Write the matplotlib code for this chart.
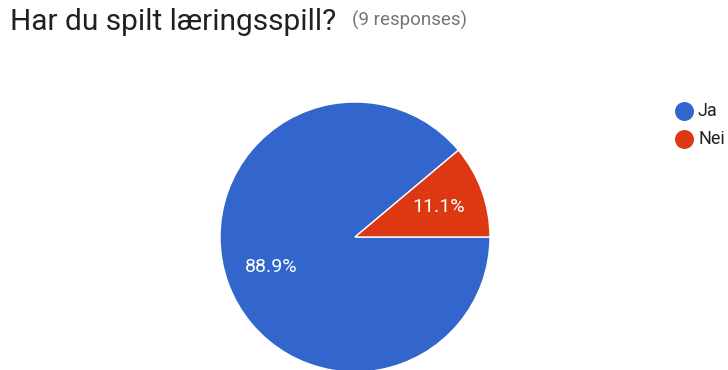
import matplotlib.pyplot as plt

# data
labels = ['Ja', 'Nei']
counts = [8, 1]
colors = ['#3366cc', '#dc3912']
title = 'Har du spilt læringsspill?'
subtitle = '(9 responses)'

plt.rcParams['font.family'] = ['Roboto', 'DejaVu Sans']

fig = plt.figure(figsize=(7.28, 3.70), dpi=100)
ax = fig.add_axes([0, 0, 1, 1])

ax.pie(counts, colors=colors, startangle=0, counterclock=False,
       center=(355, 133), radius=135, autopct='%1.1f%%', pctdistance=0.66,
       wedgeprops=dict(edgecolor='white', linewidth=1),
       textprops=dict(color='white', fontsize=14), frame=True)
ax.set_xlim(0, 728)
ax.set_ylim(0, 370)
ax.set_aspect('auto')
ax.axis('off')

fig.text(10 / 728, 1 - 22 / 370, title, fontsize=21.5, color='#212121',
         va='center', ha='left')
fig.text(352 / 728, 1 - 20 / 370, subtitle, fontsize=13.5, color='#757575',
         va='center', ha='left')

# legend
for i, (lab, col) in enumerate(zip(labels, colors)):
    ypix = 111 + 28 * i
    ax.scatter([684], [370 - ypix], s=160, color=col, clip_on=False)
    fig.text(698 / 728, 1 - ypix / 370, lab, fontsize=13, color='#212121',
             va='center', ha='left')

fig.savefig('out.png', dpi=100)
